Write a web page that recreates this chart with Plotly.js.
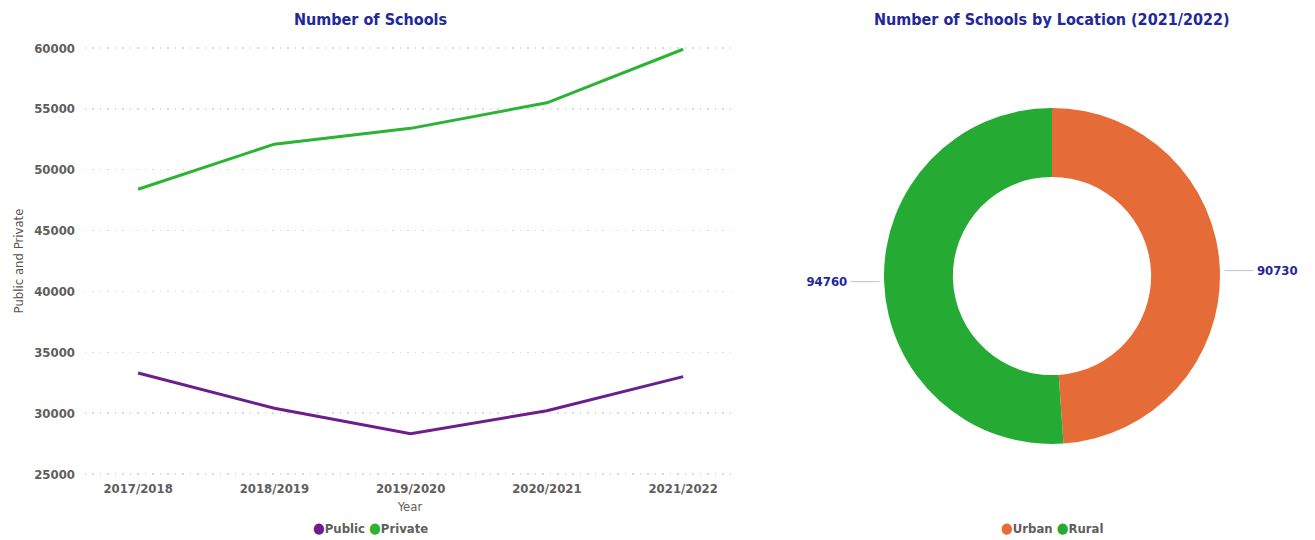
<!DOCTYPE html>
<html>
<head>
<meta charset="utf-8">
<script src="https://cdn.plot.ly/plotly-3.0.1.min.js"></script>
<style>html,body{margin:0;padding:0;background:#fff;overflow:hidden;width:1315px;height:540px;}#chart{width:1315px;height:540px;}</style>
</head>
<body>
<div id="chart"></div>
<script>
const years = ["2017/2018", "2018/2019", "2019/2020", "2020/2021", "2021/2022"];
const publicSchools = [33300, 30400, 28300, 30200, 33000];
const privateSchools = [48400, 52100, 53400, 55500, 59900];
const seriesNames = ["Public", "Private"];
const locations = ["Urban", "Rural"];
const locationCounts = [90730, 94760];
const yTicks = [25000, 30000, 35000, 40000, 45000, 50000, 55000, 60000];

const FONT = "'DejaVu Sans Condensed', 'DejaVu Sans', sans-serif";
const PURPLE = "#6B1E8C";
const GREEN = "#2BB334";
const ORANGE = "#E66C37";
const RURAL = "#25AB33";
const NAVY = "#22289A";
const GREY = "#605E5C";
const LEADER = "#C3C6DF";

const traces = [
  {x: years, y: publicSchools, type: "scatter", mode: "lines", name: seriesNames[0],
   line: {color: PURPLE, width: 3}, showlegend: false},
  {x: years, y: privateSchools, type: "scatter", mode: "lines", name: seriesNames[1],
   line: {color: GREEN, width: 3}, showlegend: false},
  {type: "pie", labels: locations, values: locationCounts, hole: 0.59, sort: false,
   direction: "clockwise", rotation: 0, marker: {colors: [ORANGE, RURAL]},
   textposition: "outside",
   texttemplate: [
     "<span style='color:" + LEADER + "'>\u2500\u2500\u2500\u2500</span> %{value:d}",
     "%{value:d} <span style='color:" + LEADER + "'>\u2500\u2500\u2500\u2500</span>"
   ],
   outsidetextfont: {color: NAVY, size: 13, family: FONT, weight: "bold"},
   domain: {x: [0.6722, 0.9278], y: [0.1778, 0.8]}, showlegend: false}
];

function legendText(names, colors) {
  return names.map((n, i) => "<span style='color:" + colors[i] + ";font-size:15px'>\u25CF</span>" + n).join(" ");
}

const legendFont = {family: FONT, size: 13, color: GREY, weight: "bold"};

const layout = {
  width: 1315, height: 540,
  margin: {l: 0, r: 0, t: 0, b: 0},
  paper_bgcolor: "#fff", plot_bgcolor: "#fff",
  font: {family: FONT, color: GREY},
  showlegend: false,
  xaxis: {domain: [0.0646, 0.5589], range: [-0.39, 4.38], type: "category",
    showgrid: false, zeroline: false, showline: false, ticks: "", ticklabelstandoff: 4,
    tickfont: {family: FONT, size: 13, color: GREY, weight: "bold"},
    title: {text: "Year", font: {family: FONT, size: 13, color: GREY}, standoff: 6}},
  yaxis: {domain: [0.12, 0.9133], range: [24900, 60100], tickvals: yTicks, tickformat: "d",
    showgrid: true, gridcolor: "#DADADA", griddash: "1.5px,6px", gridwidth: 1.5,
    zeroline: false, showline: false, ticks: "", ticklabelstandoff: 9,
    tickfont: {family: FONT, size: 13, color: GREY, weight: "bold"},
    title: {text: "Public and Private", font: {family: FONT, size: 13, color: "#5B5550"}, standoff: 7}},
  annotations: [
    {text: "<b>Number of Schools</b>", xref: "paper", yref: "paper", x: 0.282, y: 0.963,
     xanchor: "center", yanchor: "middle", showarrow: false,
     font: {family: FONT, size: 16, color: NAVY}},
    {text: "<b>Number of Schools by Location (2021/2022)</b>", xref: "paper", yref: "paper", x: 0.8, y: 0.963,
     xanchor: "center", yanchor: "middle", showarrow: false,
     font: {family: FONT, size: 16, color: NAVY}},
    {text: legendText(seriesNames, [PURPLE, GREEN]), xref: "paper", yref: "paper", x: 0.282, y: 0.004,
     xanchor: "center", yanchor: "bottom", showarrow: false, font: legendFont, borderpad: 0},
    {text: legendText(locations, [ORANGE, RURAL]), xref: "paper", yref: "paper", x: 0.8, y: 0.004,
     xanchor: "center", yanchor: "bottom", showarrow: false, font: legendFont, borderpad: 0}
  ]
};

Plotly.newPlot("chart", traces, layout, {displayModeBar: false, staticPlot: true});
</script>
</body>
</html>
